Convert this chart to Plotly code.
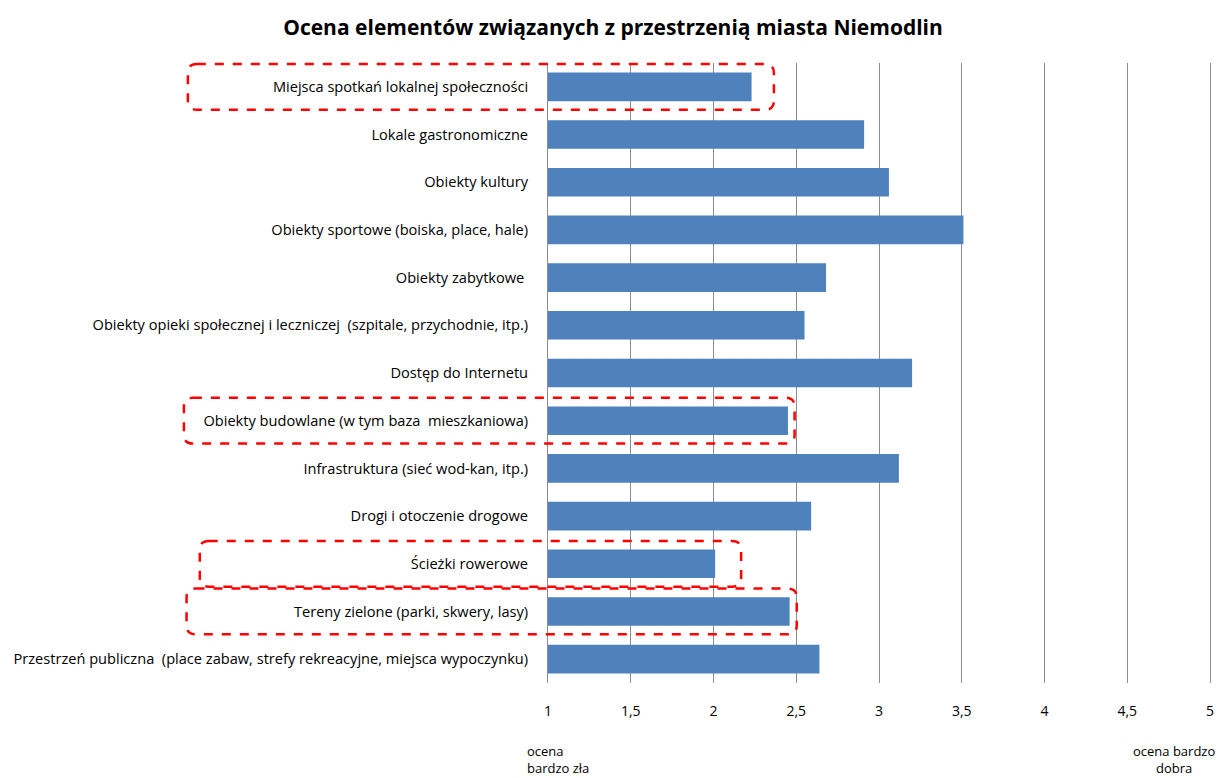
import plotly.graph_objects as go

categories = [
    "Miejsca spotkań lokalnej społeczności",
    "Lokale gastronomiczne",
    "Obiekty kultury",
    "Obiekty sportowe (boiska, place, hale)",
    "Obiekty zabytkowe ",
    "Obiekty opieki społecznej i leczniczej  (szpitale, przychodnie, itp.)",
    "Dostęp do Internetu",
    "Obiekty budowlane (w tym baza  mieszkaniowa)",
    "Infrastruktura (sieć wod-kan, itp.)",
    "Drogi i otoczenie drogowe",
    "Ścieżki rowerowe",
    "Tereny zielone (parki, skwery, lasy)",
    "Przestrzeń publiczna  (place zabaw, strefy rekreacyjne, miejsca wypoczynku)",
]
values = [2.23, 2.91, 3.06, 3.51, 2.68, 2.55, 3.20, 2.45, 3.12, 2.59, 2.01, 2.46, 2.64]

tick_vals = [1, 1.5, 2, 2.5, 3, 3.5, 4, 4.5, 5]
tick_text = ["1", "1,5", "2", "2,5", "3", "3,5", "4", "4,5", "5"]

# highlighted categories: (category, left edge in x-domain fraction, right edge in data units)
highlight_cats = ["Miejsca spotkań lokalnej społeczności",
                  "Obiekty budowlane (w tym baza  mieszkaniowa)",
                  "Ścieżki rowerowe",
                  "Tereny zielone (parki, skwery, lasy)"]
highlight_left = [-0.544, -0.550, -0.526, -0.546]
highlight_right = [2.365, 2.49, 2.167, 2.503]

title = "Ocena elementów związanych z przestrzenią miasta Niemodlin"
note_low = "ocena<br>bardzo zła"
note_high = "ocena bardzo<br>dobra"

W, H = 1226, 778
ML, MR, MT, MB = 548, 13, 63, 95
PW, PH = W - ML - MR, H - MT - MB
XMIN, XMAX = 1, 5
n = len(categories)

fig = go.Figure(go.Bar(
    x=values, y=categories, orientation="h",
    marker=dict(color="#4F81BD", line=dict(width=0)),
    width=0.6,
))

font_family = "Open Sans, Noto Sans, sans-serif"

fig.update_layout(
    width=W, height=H,
    margin=dict(l=ML, r=MR, t=MT, b=MB),
    plot_bgcolor="white", paper_bgcolor="white",
    showlegend=False,
    title=dict(text="<b>" + title + "</b>", x=0.5, xref="container", xanchor="center",
               y=1 - 28 / H, yref="container", yanchor="middle",
               font=dict(family=font_family, size=21, color="black")),
    font=dict(family=font_family, size=14, color="black"),
)
fig.update_xaxes(
    range=[XMIN, XMAX], tickvals=tick_vals, ticktext=tick_text,
    showgrid=True, gridcolor="#8C8C8C", gridwidth=1,
    zeroline=False, showline=False, ticks="", ticklabelstandoff=18,
    tickfont=dict(size=14, color="black"),
)
fig.update_yaxes(
    categoryorder="array", categoryarray=categories,
    range=[n - 0.5, -0.5],
    showline=True, mirror=True, linecolor="#8C8C8C", linewidth=1,
    ticks="", ticklabelstandoff=16, showgrid=False,
    tickfont=dict(size=14.6, color="black"),
)

# rounded dashed highlight boxes
rx = 9 / PW
ry = 9 / PH
for cat, left, right in zip(highlight_cats, highlight_left, highlight_right):
    i = categories.index(cat)
    x0 = left
    x1 = (right - XMIN) / (XMAX - XMIN)
    yt = 1 - (i + 0.5 - 0.48) / n
    yb = 1 - (i + 0.5 + 0.48) / n
    path = (f"M {x0+rx},{yt} L {x1-rx},{yt} Q {x1},{yt} {x1},{yt-ry} "
            f"L {x1},{yb+ry} Q {x1},{yb} {x1-rx},{yb} "
            f"L {x0+rx},{yb} Q {x0},{yb} {x0},{yb+ry} "
            f"L {x0},{yt-ry} Q {x0},{yt} {x0+rx},{yt} Z")
    fig.add_shape(type="path", path=path, xref="x domain", yref="y domain",
                  line=dict(color="#FF0000", width=2.5, dash="dash"),
                  fillcolor="rgba(0,0,0,0)", layer="above")

fig.add_annotation(text=note_low, xref="paper", yref="paper", x=-23 / PW, y=-(740 - (MT + PH)) / PH,
                   xanchor="left", yanchor="top", align="left", showarrow=False,
                   font=dict(size=13, color="black"))
fig.add_annotation(text=note_high, xref="paper", yref="paper", x=(1177 - ML) / PW, y=-(740 - (MT + PH)) / PH,
                   xanchor="center", yanchor="top", align="center", showarrow=False,
                   font=dict(size=13, color="black"))

fig.write_html("out.html", config={"displayModeBar": False},
               post_script="document.body.style.margin='0';document.body.style.overflow='hidden';")
